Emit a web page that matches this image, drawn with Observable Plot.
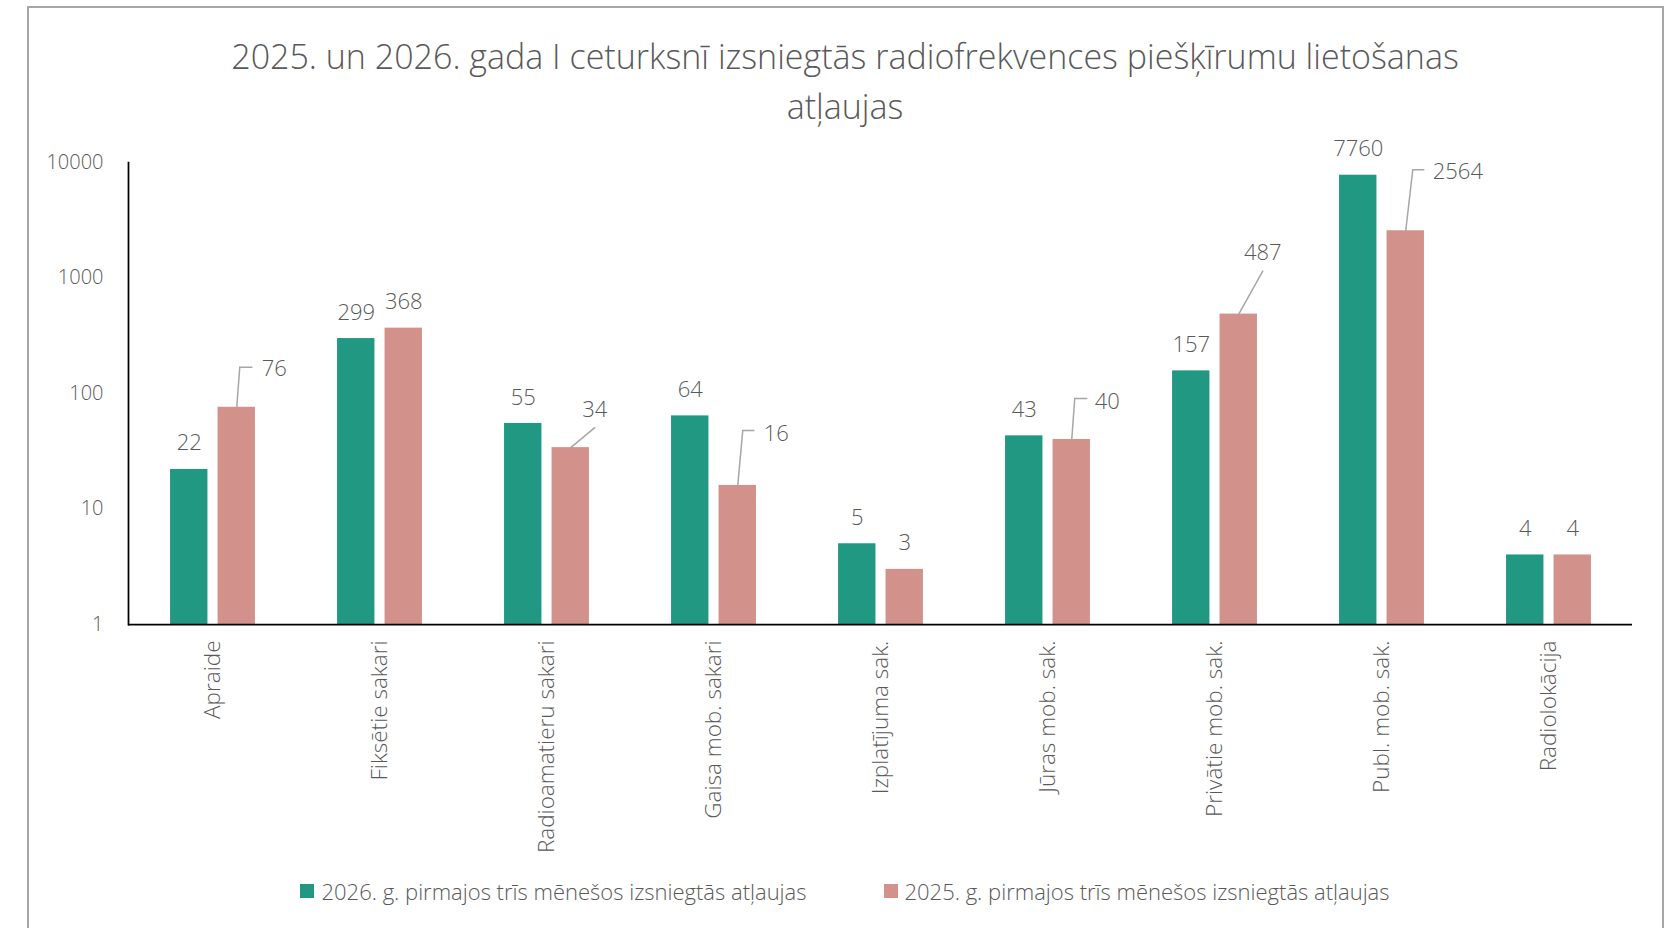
<!DOCTYPE html>
<html>
<head>
<meta charset="utf-8">
<script src="https://cdn.jsdelivr.net/npm/d3@7"></script>
<script src="https://cdn.jsdelivr.net/npm/@observablehq/plot@0.6"></script>
<style>
  html, body { margin: 0; padding: 0; background: #fff; }
  body { width: 1675px; height: 928px; position: relative; overflow: hidden; font-family: "Open Sans", sans-serif; font-weight: 300; color: #595959; }
  #border { position: absolute; left: 27px; top: 6px; width: 1637px; height: 960px; border: 2px solid #a6a6a6; border-bottom: none; box-sizing: border-box; }
  #title { position: absolute; left: 28px; width: 1634px; top: 31px; text-align: center; font-size: 34px; line-height: 50px; font-weight: 300; color: #595959; }
  #chart { position: absolute; left: 0; top: 130px; }
  #legend { position: absolute; left: 28px; width: 1634px; top: 876px; display: flex; justify-content: center; align-items: center; font-size: 22px; color: #595959; }
  .item { display: flex; align-items: center; }
  .sw { width: 14px; height: 14px; margin-right: 7px; }
</style>
</head>
<body>
<div id="border"></div>
<div id="title">2025. un 2026. gada I ceturksnī izsniegtās radiofrekvences piešķīrumu lietošanas<br>atļaujas</div>
<div id="chart"></div>
<div id="legend"></div>
<script>
// ---- data ----
const categories = ["Apraide", "Fiksētie sakari", "Radioamatieru sakari", "Gaisa mob. sakari", "Izplatījuma sak.", "Jūras mob. sak.", "Privātie mob. sak.", "Publ. mob. sak.", "Radiolokācija"];
const values2026 = [22, 299, 55, 64, 5, 43, 157, 7760, 4];
const values2025 = [76, 368, 34, 16, 3, 40, 487, 2564, 4];
const seriesNames = ["2026. g. pirmajos trīs mēnešos izsniegtās atļaujas", "2025. g. pirmajos trīs mēnešos izsniegtās atļaujas"];
const seriesColors = ["#219882", "#d3918b"];
const yTicks = [1, 10, 100, 1000, 10000];

// ---- label leader-line layout (pixel offsets from bar top centre) ----
const leaders = {
  "Apraide":              {line: [[0, 0], [3, -40], [15, -40]], label: [25, -38], anchor: "start"},
  "Radioamatieru sakari": {line: [[0, 0], [24, -20]],            label: [24, -38], anchor: "middle"},
  "Gaisa mob. sakari":    {line: [[0, 0], [5, -55], [16, -55]], label: [26, -51], anchor: "start"},
  "Jūras mob. sak.":      {line: [[0, 0], [3, -41], [15, -41]], label: [23, -38], anchor: "start"},
  "Privātie mob. sak.":   {line: [[0, 0], [24, -43]],            label: [24, -61], anchor: "middle"},
  "Publ. mob. sak.":      {line: [[0, 0], [7, -61], [18, -61]], label: [27, -59], anchor: "start"}
};

const rows = categories.map((c, i) => ({category: c, v2026: values2026[i], v2025: values2025[i]}));

const W = 1675, H = 720;
const mL = 128, mR = 43;
const band = (W - mL - mR) / categories.length;
const barW = 37.5, gap = 10;
const side = (band - 2 * barW - gap) / 2;
const off = barW / 2 + gap / 2; // centre offset of each bar from band centre
const txt = "#595959";
const lineGray = "#a6a6a6";
const fs = 22;

const leaderMarks = [];
for (const [cat, cfg] of Object.entries(leaders)) {
  const r = rows.filter(d => d.category === cat);
  for (let k = 0; k < cfg.line.length - 1; k++) {
    const a = cfg.line[k], b = cfg.line[k + 1];
    const ddx = b[0] - a[0], ddy = b[1] - a[1];
    leaderMarks.push(Plot.vector(r, {
      x: "category", y: "v2025",
      dx: off + a[0], dy: a[1],
      length: Math.hypot(ddx, ddy),
      rotate: Math.atan2(ddx, -ddy) * 180 / Math.PI,
      anchor: "start",
      stroke: lineGray, strokeWidth: 1.5,
      shape: {draw(context, l) { context.moveTo(0, 0); context.lineTo(0, -l); }}
    }));
  }
  leaderMarks.push(Plot.text(r, {
    x: "category", y: "v2025", text: d => String(d.v2025),
    dx: off + cfg.label[0], dy: cfg.label[1],
    textAnchor: cfg.anchor, fontSize: fs, fill: txt
  }));
}

const chart = Plot.plot({
  width: W, height: H,
  marginLeft: mL, marginRight: mR, marginTop: 32, marginBottom: 226,
  style: {fontFamily: "'Open Sans', sans-serif", fontWeight: 300, color: txt, background: "transparent", overflow: "visible"},
  x: {domain: categories, padding: 0, label: null},
  y: {type: "log", domain: [1, 10000], label: null},
  marks: [
    Plot.barY(rows, {x: "category", y1: 1, y2: "v2026", fill: seriesColors[0], insetLeft: side, insetRight: side + barW + gap}),
    Plot.barY(rows, {x: "category", y1: 1, y2: "v2025", fill: seriesColors[1], insetLeft: side + barW + gap, insetRight: side}),
    Plot.text(rows, {x: "category", y: "v2026", text: d => String(d.v2026), dx: -off, dy: -26, fontSize: fs, fill: txt}),
    Plot.text(rows.filter(d => !(d.category in leaders)), {x: "category", y: "v2025", text: d => String(d.v2025), dx: off, dy: -26, fontSize: fs, fill: txt}),
    ...leaderMarks,
    Plot.axisY({ticks: yTicks, tickSize: 0, tickPadding: 25, tickFormat: d => String(d), fontSize: 20, label: null}),
    Plot.axisX({tickRotate: -90, tickSize: 0, tickPadding: 16, fontSize: 22.5, label: null}),
    Plot.ruleY([1], {stroke: "#000", strokeWidth: 1.75}),
    Plot.frame({anchor: "left", stroke: "#000", strokeWidth: 1.75})
  ]
});
document.getElementById("chart").appendChild(chart);

const legend = document.getElementById("legend");
seriesNames.forEach((name, i) => {
  const item = document.createElement("div");
  item.className = "item";
  if (i > 0) item.style.marginLeft = "77px";
  const sw = document.createElement("div");
  sw.className = "sw";
  sw.style.background = seriesColors[i];
  const label = document.createElement("span");
  label.textContent = name;
  item.appendChild(sw);
  item.appendChild(label);
  legend.appendChild(item);
});
</script>
</body>
</html>
